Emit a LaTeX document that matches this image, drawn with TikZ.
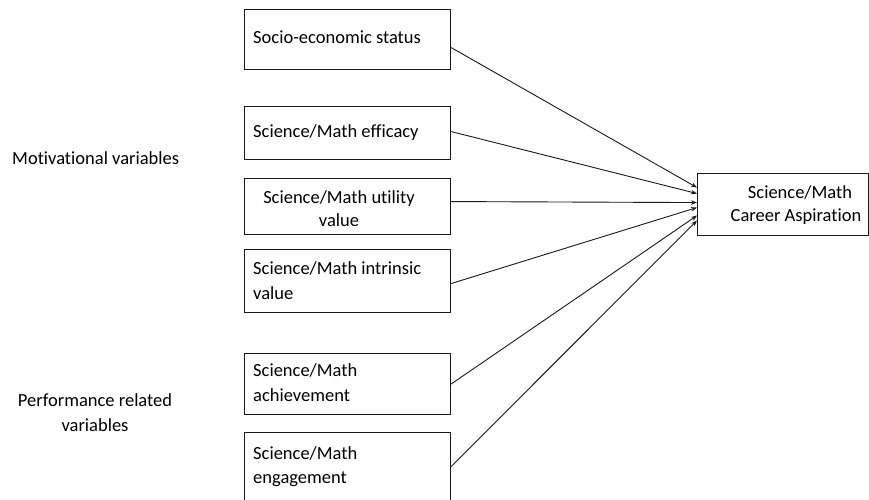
\documentclass[tikz,border=0pt]{standalone}
\usepackage{fontspec}
\setmainfont{Carlito}[Ligatures=NoCommon]
\usetikzlibrary{arrows.meta}
\begin{document}
\begin{tikzpicture}[x=1pt,y=-1pt,
  box/.style={draw=black!90, line width=1.1pt, anchor=north west, inner sep=0pt},
  lbl/.style={anchor=base west, inner sep=0pt, font=\fontsize{18.5}{22}\selectfont},
  clbl/.style={anchor=base, inner sep=0pt, font=\fontsize{18.5}{22}\selectfont},
  arr/.style={draw=black!90, line width=0.9pt, -{Stealth[length=6pt,width=4.5pt]}}]
\useasboundingbox (0,0) rectangle (869,499);
% boxes
\node[box, minimum width=206pt, minimum height=60pt] (b1) at (244,9) {};
\node[box, minimum width=206pt, minimum height=53pt] (b2) at (244,106) {};
\node[box, minimum width=206pt, minimum height=56pt] (b3) at (244,178) {};
\node[box, minimum width=206pt, minimum height=63pt] (b4) at (244,249) {};
\node[box, minimum width=206pt, minimum height=61pt] (b5) at (244,353) {};
\node[box, minimum width=206pt, minimum height=73pt] (b6) at (244,432) {};
\node[box, minimum width=171pt, minimum height=62pt] (t) at (697,173) {};
% texts
\node[lbl] (tx1) at (253,43) {Socio-economic status};
\node[lbl] (tx2) at (253,137) {Science/Math efficacy};
\node[clbl] (tx3a) at (339,203) {Science/Math utility};
\node[clbl] (tx3b) at (339,226) {value};
\node[lbl] (tx4a) at (253,274) {Science/Math intrinsic};
\node[lbl] (tx4b) at (253,299) {value};
\node[lbl] (tx5a) at (253,376) {Science/Math};
\node[lbl] (tx5b) at (253,401) {achievement};
\node[lbl] (tx6a) at (253,459) {Science/Math};
\node[lbl] (tx6b) at (253,483) {engagement};
\node[clbl] (tta) at (800,198) {Science/Math};
\node[clbl] (ttb) at (796,221) {Career Aspiration};
\node[lbl] (m) at (12,164) {Motivational variables};
\node[clbl] (pa) at (95,406) {Performance related};
\node[clbl] (pb) at (95,431) {variables};
% arrows
\draw[arr] ([yshift=-8pt]b1.east) -- ([yshift=17pt]t.west);
\draw[arr] ([yshift=1.5pt]b2.east) -- ([yshift=11pt]t.west);
\draw[arr] ([yshift=5pt]b3.east) -- ([yshift=2pt]t.west);
\draw[arr] ([yshift=-2.5pt]b4.east) -- ([yshift=-3pt]t.west);
\draw[arr] ([yshift=0pt]b5.east) -- ([yshift=-11pt]t.west);
\draw[arr] ([yshift=2.5pt]b6.east) -- ([yshift=-16pt]t.west);
\end{tikzpicture}
\end{document}
